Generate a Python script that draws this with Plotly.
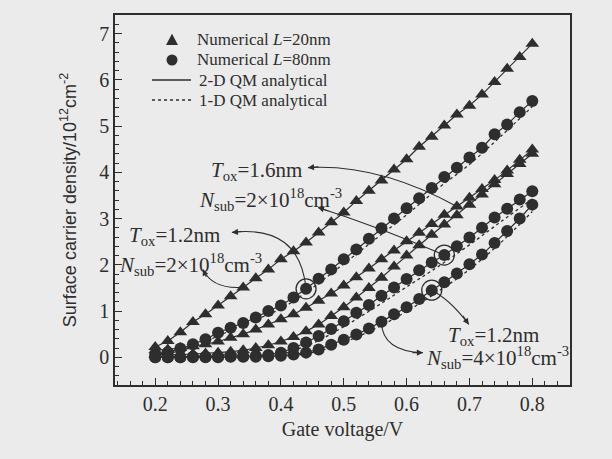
import plotly.graph_objects as go

# ---------------- data ----------------
gate_v = [0.20, 0.22, 0.24, 0.26, 0.28, 0.30, 0.32, 0.34, 0.36, 0.38,
          0.40, 0.42, 0.44, 0.46, 0.48, 0.50, 0.52, 0.54, 0.56, 0.58,
          0.60, 0.62, 0.64, 0.66, 0.68, 0.70, 0.72, 0.74, 0.76, 0.78, 0.80]

# L = 20 nm (triangles)
tri_tox12_n2 = [0.22, 0.35, 0.54, 0.76, 0.93, 1.12, 1.32, 1.51, 1.71, 1.90,
                2.12, 2.29, 2.48, 2.70, 2.92, 3.13, 3.38, 3.60, 3.82, 4.06,
                4.28, 4.55, 4.77, 5.01, 5.25, 5.44, 5.68, 5.95, 6.24, 6.49, 6.78]
tri_tox16_n2 = [0.15, 0.17, 0.20, 0.24, 0.28, 0.34, 0.42, 0.50, 0.60, 0.71,
                0.82, 0.93, 1.07, 1.22, 1.38, 1.55, 1.73, 1.92, 2.12, 2.31,
                2.51, 2.69, 2.88, 3.08, 3.26, 3.45, 3.64, 3.83, 4.04, 4.27, 4.49]
tri_tox12_n4 = [0.05, 0.05, 0.06, 0.07, 0.08, 0.10, 0.12, 0.15, 0.20, 0.26,
                0.34, 0.44, 0.56, 0.71, 0.89, 1.08, 1.29, 1.50, 1.72, 1.96,
                2.20, 2.42, 2.65, 2.87, 3.07, 3.30, 3.52, 3.74, 3.96, 4.18, 4.40]

# L = 80 nm (circles)
cir_tox12_n2 = [0.05, 0.11, 0.19, 0.28, 0.39, 0.53, 0.64, 0.74, 0.86, 1.00,
                1.12, 1.29, 1.48, 1.70, 1.90, 2.12, 2.33, 2.56, 2.79, 3.00,
                3.22, 3.44, 3.66, 3.90, 4.10, 4.32, 4.53, 4.82, 5.03, 5.30, 5.54]
cir_tox16_n2 = [0.00, 0.00, 0.00, 0.01, 0.01, 0.01, 0.02, 0.02, 0.03, 0.05,
                0.10, 0.20, 0.32, 0.46, 0.61, 0.78, 0.96, 1.13, 1.33, 1.51,
                1.69, 1.88, 2.05, 2.21, 2.40, 2.59, 2.80, 3.02, 3.21, 3.41, 3.59]
cir_tox12_n4 = [0.00, 0.00, 0.00, 0.00, 0.00, 0.00, 0.01, 0.01, 0.01, 0.02,
                0.03, 0.06, 0.10, 0.17, 0.27, 0.38, 0.49, 0.62, 0.77, 0.93,
                1.08, 1.26, 1.45, 1.62, 1.81, 2.01, 2.22, 2.47, 2.73, 3.00, 3.30]

# 1-D QM analytical (dotted)
v_1d = [0.20, 0.25, 0.30, 0.35, 0.40, 0.45, 0.50, 0.55, 0.60, 0.65, 0.70, 0.75, 0.80]
qm1d_tox12_n2 = [0.02, 0.18, 0.46, 0.76, 1.05, 1.50, 2.02, 2.55, 3.08, 3.65, 4.17, 4.78, 5.42]
qm1d_tox16_n2 = [0.00, 0.00, 0.01, 0.02, 0.07, 0.30, 0.66, 1.08, 1.52, 1.96, 2.43, 2.93, 3.42]
qm1d_tox12_n4 = [0.00, 0.00, 0.00, 0.00, 0.02, 0.10, 0.32, 0.62, 0.99, 1.42, 1.90, 2.48, 3.15]

# highlighted (ringed) points: (series, index into gate_v)
ring_idx = [("c12n2", 12), ("c16n2", 23), ("c12n4", 22)]

x_ticks = [0.2, 0.3, 0.4, 0.5, 0.6, 0.7, 0.8]
y_ticks = [0, 1, 2, 3, 4, 5, 6, 7]

legend_names = ["Numerical <i>L</i>=20nm", "Numerical <i>L</i>=80nm",
                "2-D QM analytical", "1-D QM analytical"]

# ---------------- figure ----------------
ink = "#2e2e2e"
bg = "#ebebeb"
serif = "Liberation Serif"
W, H = 612, 459
ML, MR, MT, MB = 115, 42, 15, 74
PW, PH = W - ML - MR, H - MT - MB


def px2paper(px, py):
    return (px - ML) / PW, (H - MB - py) / PH


fig = go.Figure()

tri_series = [tri_tox12_n2, tri_tox16_n2, tri_tox12_n4]
cir_series = [cir_tox12_n2, cir_tox16_n2, cir_tox12_n4]
d1_series = [qm1d_tox12_n2, qm1d_tox16_n2, qm1d_tox12_n4]

for s in tri_series + cir_series:
    fig.add_trace(go.Scatter(x=gate_v, y=s, mode="lines", showlegend=False,
                             line=dict(color=ink, width=1.2)))
for s in d1_series:
    fig.add_trace(go.Scatter(x=v_1d, y=s, mode="lines", showlegend=False,
                             line=dict(color=ink, width=1.3, dash="dot", shape="spline")))
for s in tri_series:
    fig.add_trace(go.Scatter(x=gate_v, y=s, mode="markers", showlegend=False,
                             marker=dict(symbol="triangle-up", size=12, color=ink)))
for s in cir_series:
    fig.add_trace(go.Scatter(x=gate_v, y=s, mode="markers", showlegend=False,
                             marker=dict(symbol="circle", size=12, color=ink)))

lookup = {"c12n2": cir_tox12_n2, "c16n2": cir_tox16_n2, "c12n4": cir_tox12_n4}
fig.add_trace(go.Scatter(x=[gate_v[k] for _, k in ring_idx],
                         y=[lookup[n][k] for n, k in ring_idx],
                         mode="markers", showlegend=False,
                         marker=dict(symbol="circle-open", size=20,
                                     color=ink, line=dict(width=1.3, color=ink))))

# ---------------- manual legend (paper coordinates) ----------------
leg_rows = [40, 60, 80, 100]
sym_cx = 172
cx, cy = px2paper(sym_cx, leg_rows[0])
dx, dy = 6 / PW, 6 / PH
fig.add_shape(type="path", xref="paper", yref="paper",
              path=f"M {cx-dx},{cy-dy*0.85} L {cx+dx},{cy-dy*0.85} L {cx},{cy+dy*1.05} Z",
              fillcolor=ink, line=dict(width=0))
cx, cy = px2paper(sym_cx, leg_rows[1])
fig.add_shape(type="circle", xref="paper", yref="paper",
              x0=cx - 5.5 / PW, x1=cx + 5.5 / PW, y0=cy - 5.5 / PH, y1=cy + 5.5 / PH,
              fillcolor=ink, line=dict(width=0))
for row, dash in [(leg_rows[2], "solid"), (leg_rows[3], "dot")]:
    x0, y0 = px2paper(152, row)
    x1, _ = px2paper(191, row)
    fig.add_shape(type="line", xref="paper", yref="paper", x0=x0, x1=x1, y0=y0, y1=y0,
                  line=dict(color=ink, width=1.3, dash=dash))
for row, name, tx in zip(leg_rows, legend_names, [195, 195, 197, 197]):
    px_, py_ = px2paper(tx, row)
    fig.add_annotation(x=px_, y=py_, xref="paper", yref="paper", text=name,
                       showarrow=False, xanchor="left", yanchor="middle",
                       font=dict(family=serif, size=17, color=ink))

# ---------------- annotation arrows (curved) ----------------
arrows = [
    # start(x,y), control(x,y), end(x,y), arrow tail offset px (ax, ay)
    ((0.44, 1.48), (0.43, 2.87), (0.322, 2.70), (12, -1)),
    ((0.338, 1.51), (0.291, 1.47), (0.276, 1.90), (4, 9)),
    ((0.66, 2.21), (0.558, 2.81), (0.459, 3.24), (12, 4)),
    ((0.68, 3.26), (0.5545, 4.19), (0.443, 4.10), (12, -1)),
    ((0.64, 1.45), (0.669, 1.25), (0.699, 0.71), (-7, -10)),
    ((0.56, 0.77), (0.561, 0.13), (0.626, 0.10), (-12, 0)),
]
for (s, c, e, off) in arrows:
    fig.add_shape(type="path", xref="x", yref="y",
                  path=f"M {s[0]},{s[1]} Q {c[0]},{c[1]} {e[0]},{e[1]}",
                  line=dict(color=ink, width=1.1))
    fig.add_annotation(x=e[0], y=e[1], xref="x", yref="y", text="",
                       showarrow=True, arrowhead=2, arrowsize=1.1,
                       arrowwidth=1.1, arrowcolor=ink, ax=off[0], ay=off[1])

labels = [
    (0.285, 4.02, "<i>T</i><sub>ox</sub>=1.6nm"),
    (0.266, 3.41, "<i>N</i><sub>sub</sub>=2×10<sup>18</sup>cm<sup>-3</sup>"),
    (0.155, 2.63, "<i>T</i><sub>ox</sub>=1.2nm"),
    (0.139, 2.00, "<i>N</i><sub>sub</sub>=2×10<sup>18</sup>cm<sup>-3</sup>"),
    (0.662, 0.45, "<i>T</i><sub>ox</sub>=1.2nm"),
    (0.627, 0.00, "<i>N</i><sub>sub</sub>=4×10<sup>18</sup>cm<sup>-3</sup>"),
]
for x, y, t in labels:
    fig.add_annotation(x=x, y=y, xref="x", yref="y", text=t, showarrow=False,
                       xanchor="left", yanchor="middle",
                       font=dict(family=serif, size=21, color=ink))

axis_common = dict(showline=True, linecolor=ink, linewidth=1.5, mirror=True,
                   showgrid=False, zeroline=False, ticks="inside",
                   ticklen=7, tickwidth=1.2, tickcolor=ink,
                   tickfont=dict(family=serif, size=20, color=ink))

fig.update_xaxes(range=[0.136, 0.86], tickvals=x_ticks,
                 ticktext=[f"{v:.1f}" for v in x_ticks],
                 minor=dict(dtick=0.02, tick0=0.2, ticks="inside", ticklen=4,
                            tickwidth=1, tickcolor=ink),
                 title=dict(text="Gate voltage/V",
                            font=dict(family=serif, size=20, color=ink),
                            standoff=8),
                 **axis_common)
fig.update_yaxes(range=[-0.6, 7.4], tickvals=y_ticks,
                 minor=dict(dtick=0.2, tick0=0, ticks="inside", ticklen=4,
                            tickwidth=1, tickcolor=ink),
                 title=dict(text="Surface carrier density/10<sup>12</sup>cm<sup>-2</sup>",
                            font=dict(family="Liberation Sans", size=18, color=ink),
                            standoff=18),
                 **axis_common)

fig.update_layout(
    width=W, height=H,
    margin=dict(l=ML, r=MR, t=MT, b=MB),
    paper_bgcolor=bg, plot_bgcolor=bg,
    showlegend=False,
)

fig.write_html("out.html", config={"displayModeBar": False},
               post_script="document.body.style.margin='0';"
                           "document.body.style.background='" + bg + "';")
